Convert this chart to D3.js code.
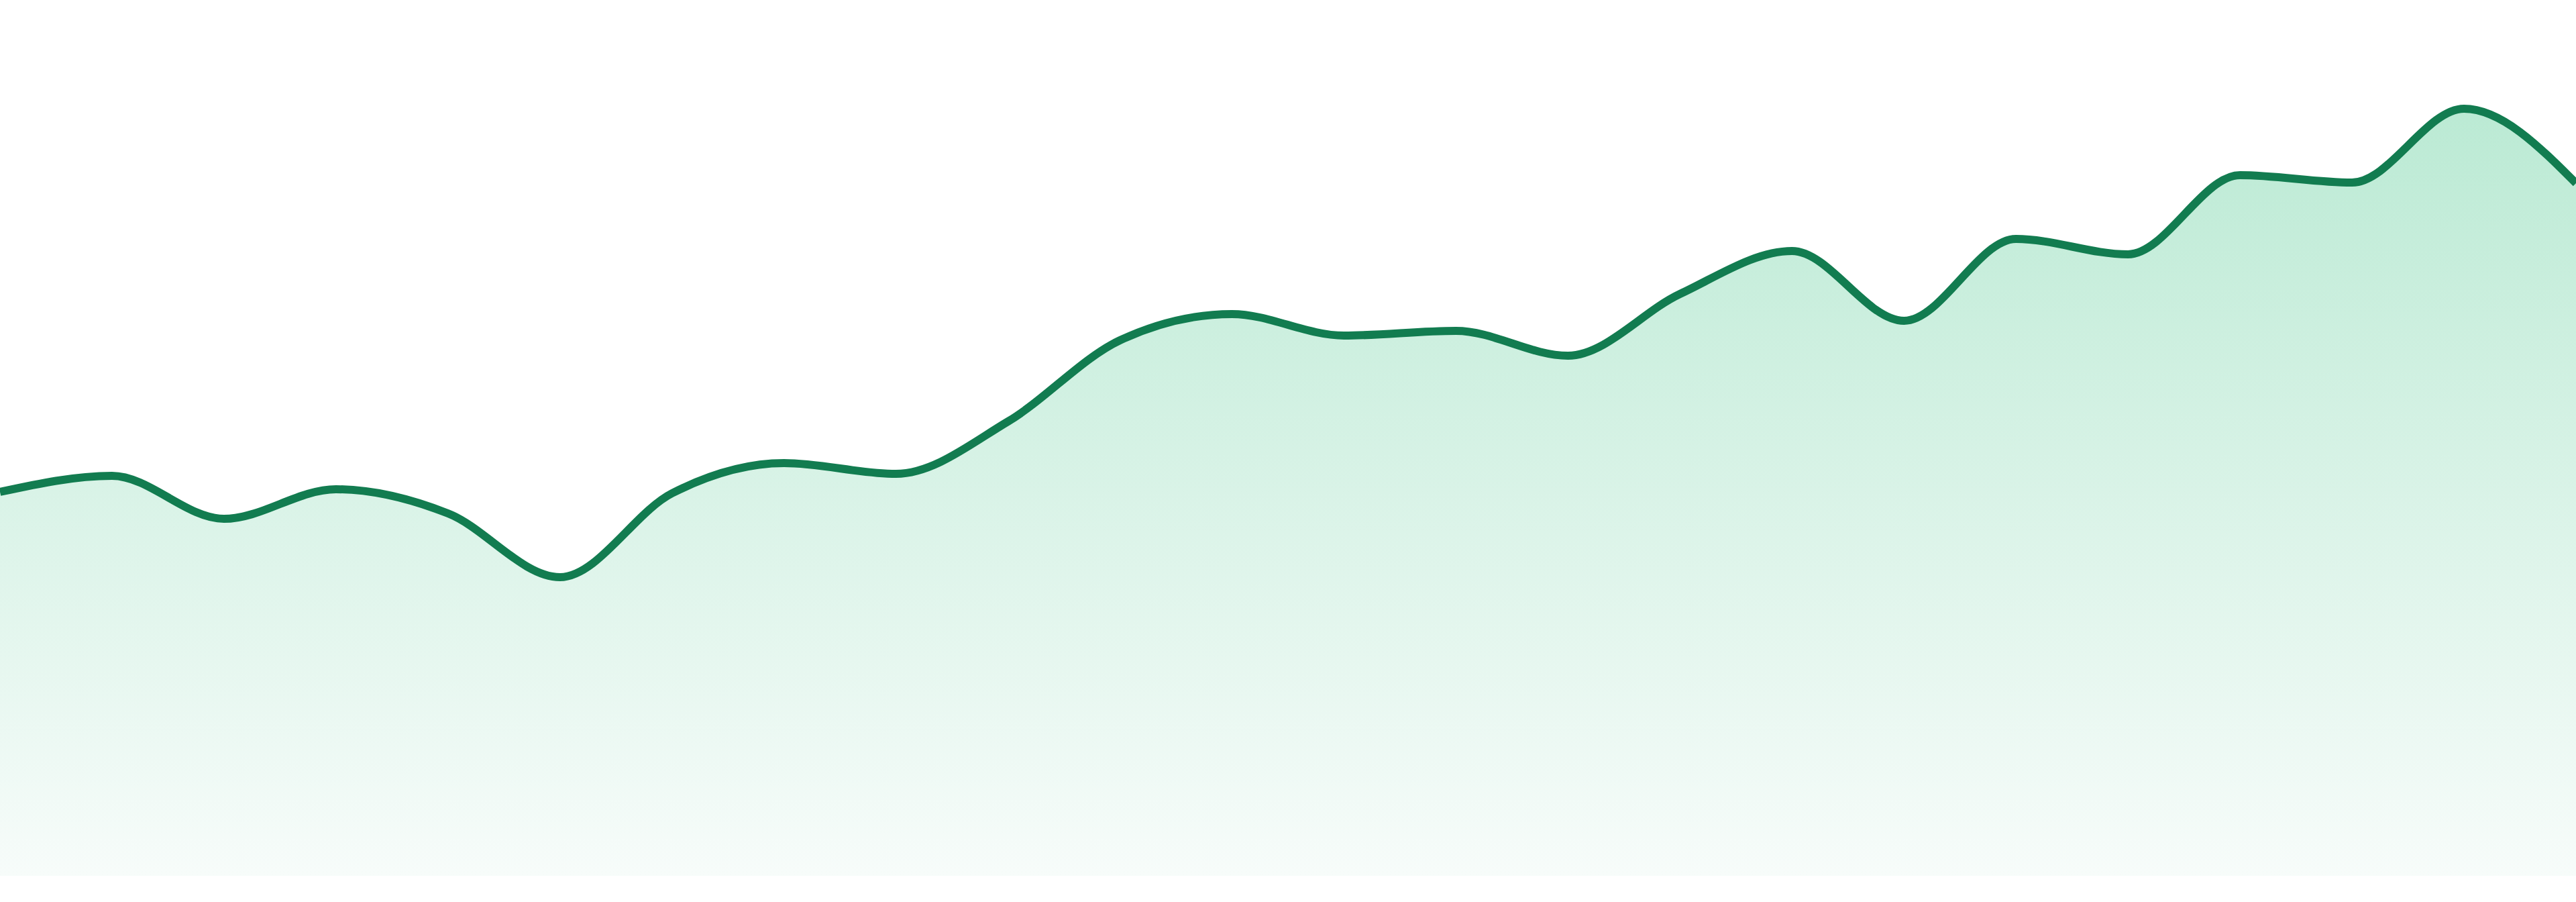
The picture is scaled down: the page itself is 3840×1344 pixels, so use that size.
<!DOCTYPE html>
<html lang="en">
<head>
    <meta charset="UTF-8">
    <title>Area trend</title>
    <script src="https://d3js.org/d3.v7.min.js"></script>
    <style>
        html, body {
            margin: 0;
            padding: 0;
            background: #fff;
            overflow: hidden;
        }
    </style>
</head>
<body>
    <div id="chart"></div>
    <script>

// one value per step
var steps = ['1', '2', '3', '4', '5', '6', '7', '8', '9', '10', '11', '12',
             '13', '14', '15', '16', '17', '18', '19', '20', '21', '22', '23', '24'];
var values = [57.2, 59.6, 53.2, 57.6, 54.0, 44.5, 57.0, 61.5, 59.9, 67.7, 79.8, 83.7,
              80.5, 81.2, 77.5, 86.7, 93.1, 82.7, 94.9, 92.6, 104.4, 103.3, 114.3, 103.2];

var width = 3840,
    height = 1344,
    baseline = 1305;

var svg = d3.select('#chart')
    .append('svg')
    .attr('width', width)
    .attr('height', height);

var x_scale = d3.scalePoint()
    .domain(steps)
    .range([0, width]);

var y_scale = d3.scaleLinear()
    .domain([0, 130.5])
    .range([baseline, 0]);

var data = steps.map(function(s, i) {
    return {step: s, value: values[i]};
});

var top_y = y_scale(d3.max(values));

var grad = svg.append('defs')
    .append('linearGradient')
    .attr('id', 'fade')
    .attr('gradientUnits', 'userSpaceOnUse')
    .attr('x1', 0).attr('x2', 0)
    .attr('y1', top_y).attr('y2', baseline);

grad.append('stop').attr('offset', '0%').attr('stop-color', 'rgb(187,234,212)');
grad.append('stop').attr('offset', '100%').attr('stop-color', 'rgb(247,252,250)');

var area = d3.area()
    .curve(d3.curveMonotoneX)
    .x(function(d) { return x_scale(d.step); })
    .y0(baseline)
    .y1(function(d) { return y_scale(d.value); });

var line = d3.line()
    .curve(d3.curveMonotoneX)
    .x(function(d) { return x_scale(d.step); })
    .y(function(d) { return y_scale(d.value); });

svg.append('path')
    .datum(data)
    .attr('fill', 'url(#fade)')
    .attr('d', area);

svg.append('path')
    .datum(data)
    .attr('fill', 'none')
    .attr('stroke', '#127c50')
    .attr('stroke-width', 12)
    .attr('stroke-linejoin', 'round')
    .attr('d', line);

    </script>
</body>
</html>
